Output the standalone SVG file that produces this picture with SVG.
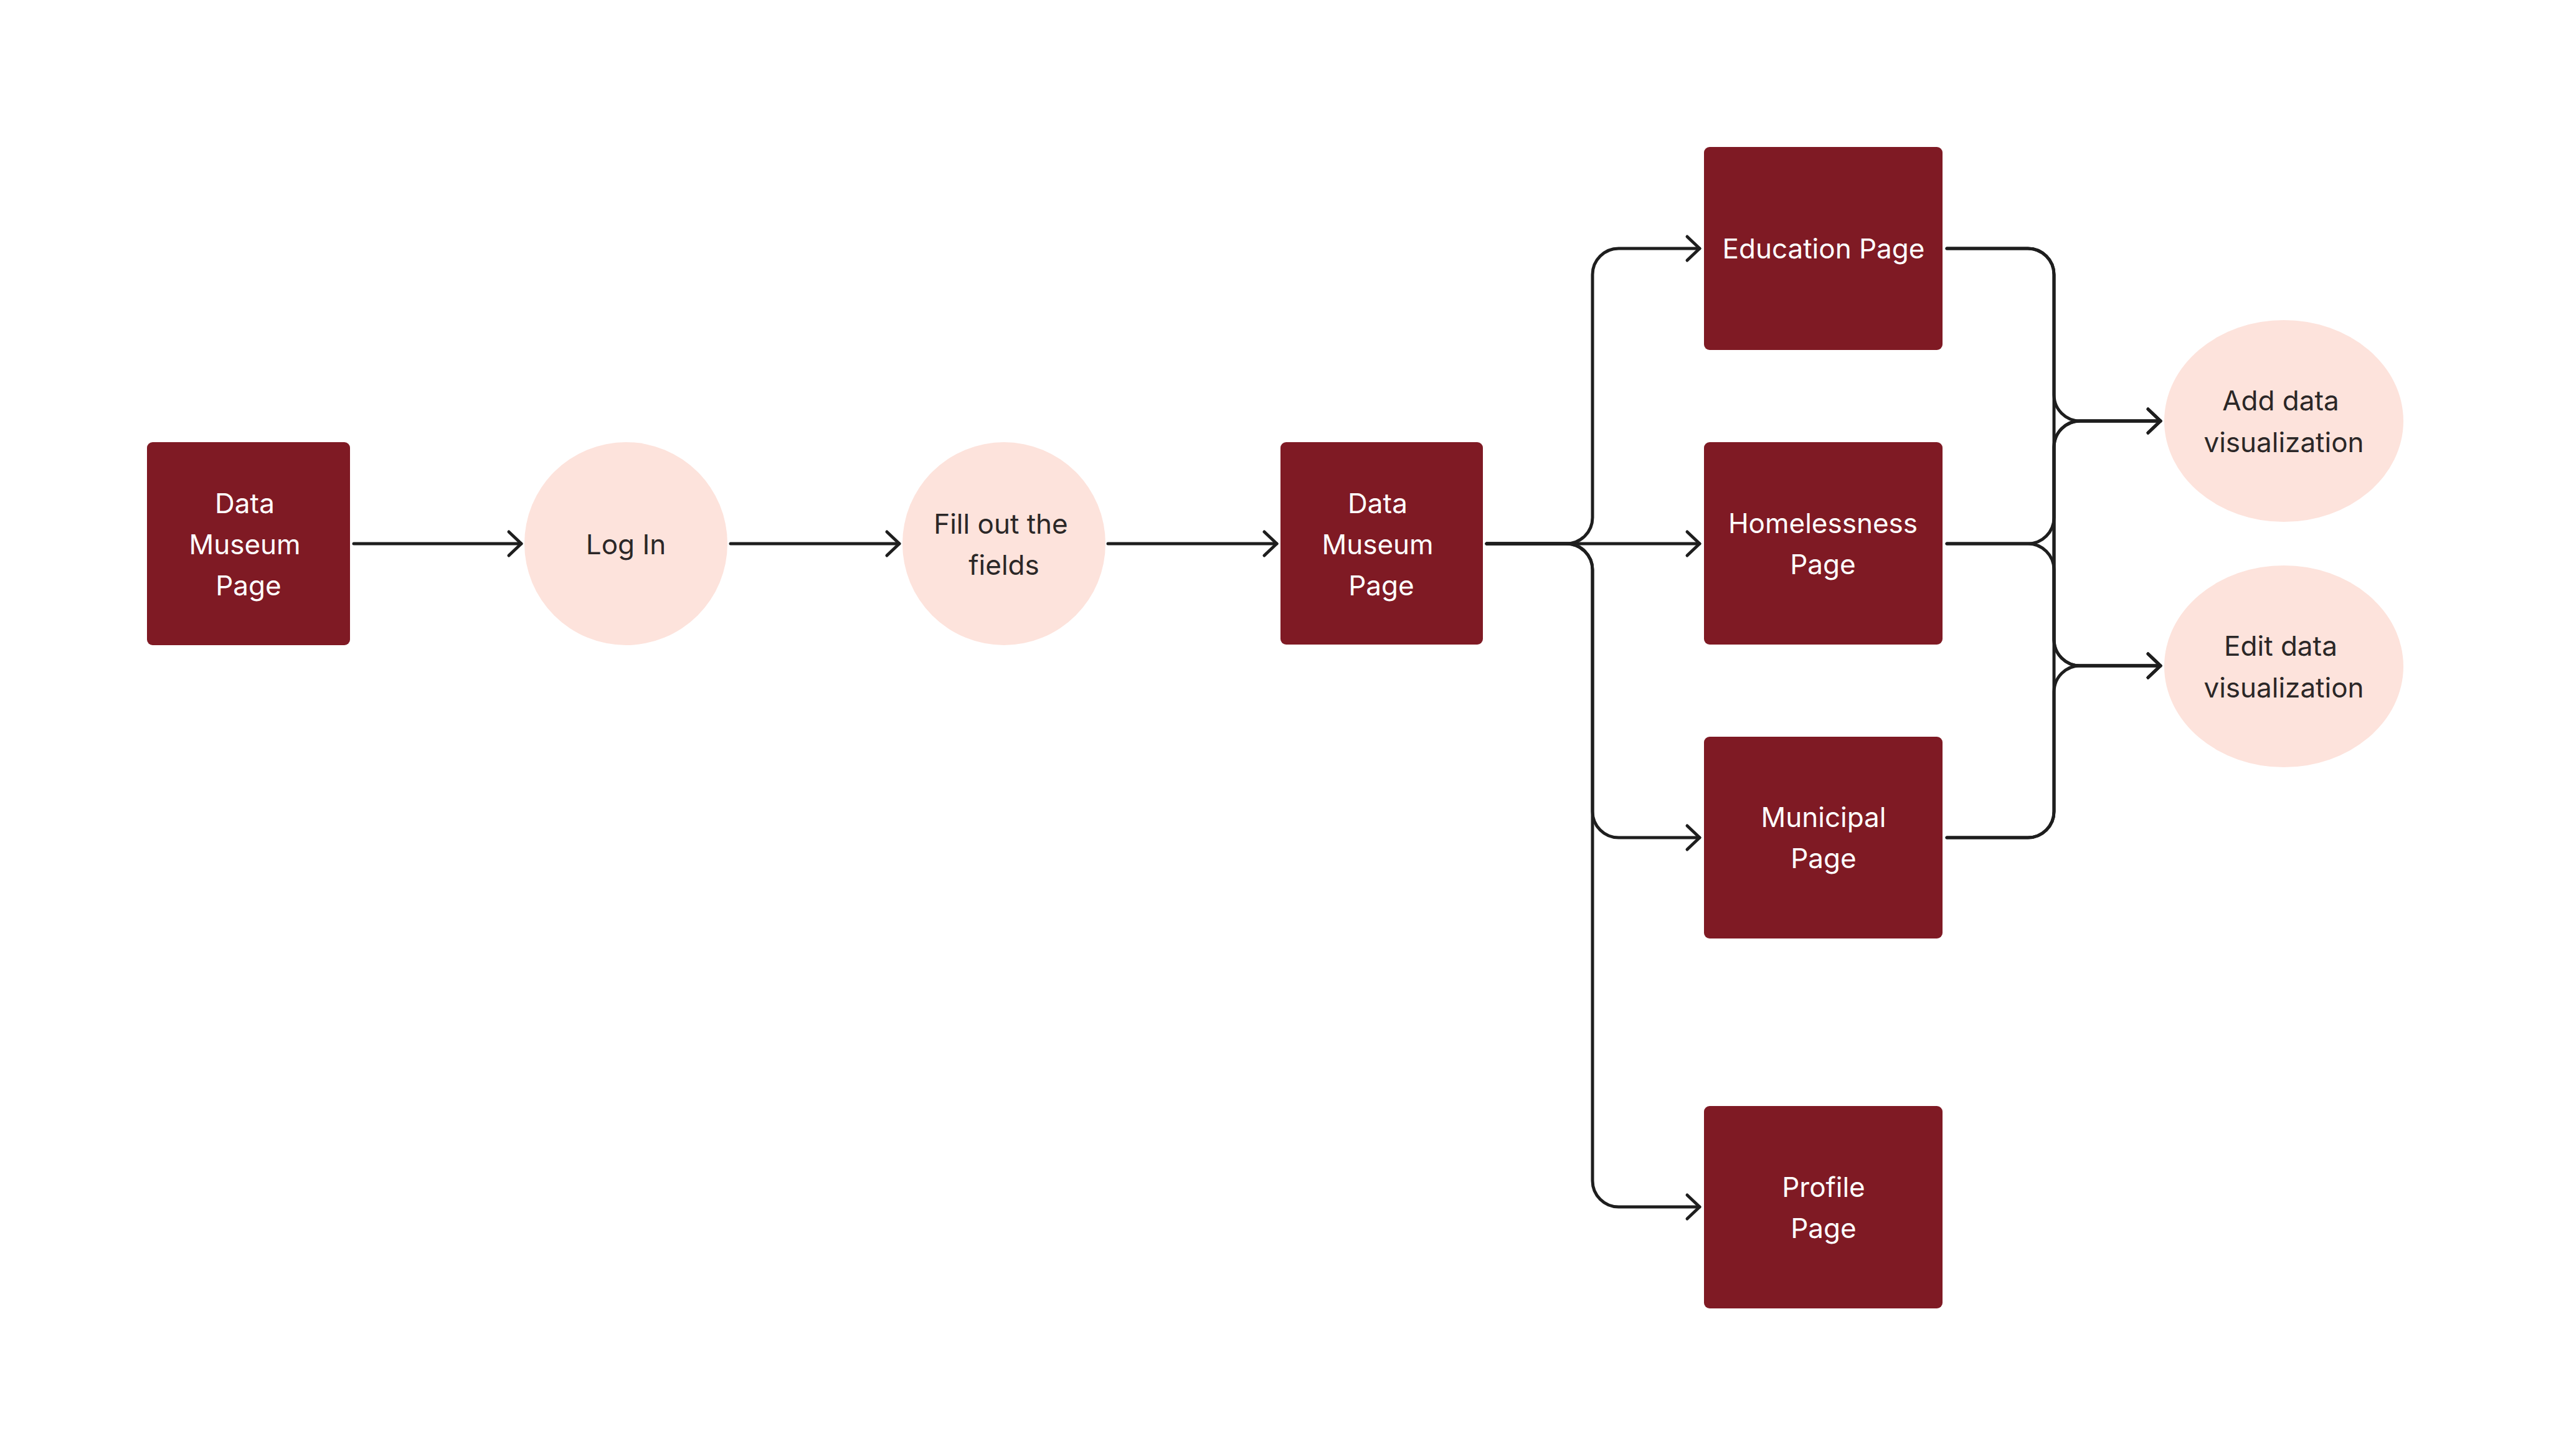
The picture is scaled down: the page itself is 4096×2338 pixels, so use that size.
<svg xmlns="http://www.w3.org/2000/svg" width="4096" height="2338" viewBox="0 0 4096 2338">
<style>
.box{fill:#7f1a24}
.oval{fill:#fde3dc}
.lbl{font-family:Inter,"Noto Sans","Liberation Sans",sans-serif;font-size:44px;text-anchor:middle}
.w{fill:#ffffff}
.d{fill:#2b2727}
.c{fill:none;stroke:#1e1e1e;stroke-width:5;stroke-linecap:round;stroke-linejoin:round}
</style>
<defs>
<marker id="arr" markerUnits="userSpaceOnUse" viewBox="-30 -30 40 60" markerWidth="40" markerHeight="60" refX="0" refY="0" orient="auto" overflow="visible">
<path d="M-20,-19 L0,0 L-20,19" fill="none" stroke="#1e1e1e" stroke-width="5" stroke-linecap="round" stroke-linejoin="round"/>
</marker>
</defs>
<rect width="4096" height="2338" fill="#ffffff"/>
<g id="connectors">
<path class="c" marker-end="url(#arr)" d="M568,873 H837"/>
<path class="c" marker-end="url(#arr)" d="M1173,873 H1444"/>
<path class="c" marker-end="url(#arr)" d="M1779,873 H2050"/>
<path class="c" marker-end="url(#arr)" d="M2387,873 H2515 A42,42 0 0 0 2557,831 V441 A42,42 0 0 1 2599,399 H2729"/>
<path class="c" marker-end="url(#arr)" d="M2387,873 H2729"/>
<path class="c" marker-end="url(#arr)" d="M2387,873 H2515 A42,42 0 0 1 2557,915 V1303 A42,42 0 0 0 2599,1345 H2729"/>
<path class="c" marker-end="url(#arr)" d="M2387,873 H2515 A42,42 0 0 1 2557,915 V1896 A42,42 0 0 0 2599,1938 H2729"/>
<path class="c" marker-end="url(#arr)" d="M3126,399 H3256 A42,42 0 0 1 3298,441 V634 A42,42 0 0 0 3340,676 H3469"/>
<path class="c" marker-end="url(#arr)" d="M3126,399 H3256 A42,42 0 0 1 3298,441 V1027 A42,42 0 0 0 3340,1069 H3469"/>
<path class="c" marker-end="url(#arr)" d="M3126,873 H3256 A42,42 0 0 0 3298,831 V718 A42,42 0 0 1 3340,676 H3469"/>
<path class="c" marker-end="url(#arr)" d="M3126,873 H3256 A42,42 0 0 1 3298,915 V1027 A42,42 0 0 0 3340,1069 H3469"/>
<path class="c" marker-end="url(#arr)" d="M3126,1345 H3256 A42,42 0 0 0 3298,1303 V718 A42,42 0 0 1 3340,676 H3469"/>
<path class="c" marker-end="url(#arr)" d="M3126,1345 H3256 A42,42 0 0 0 3298,1303 V1111 A42,42 0 0 1 3340,1069 H3469"/>
</g>
<g id="n1">
<rect class="box" x="236" y="710" width="326" height="326" rx="9"/>
<text class="lbl w" x="393" y="824">Data</text>
<text class="lbl w" x="393" y="890">Museum</text>
<text class="lbl w" x="399" y="956">Page</text>
</g>
<g id="n2">
<circle class="oval" cx="1005" cy="873" r="163"/>
<text class="lbl d" x="1005" y="890">Log In</text>
</g>
<g id="n3">
<circle class="oval" cx="1612" cy="873" r="163"/>
<text class="lbl d" x="1607" y="857">Fill out the</text>
<text class="lbl d" x="1612" y="923">fields</text>
</g>
<g id="n4">
<rect class="box" x="2056" y="710" width="325" height="325" rx="9"/>
<text class="lbl w" x="2212" y="824">Data</text>
<text class="lbl w" x="2212" y="890">Museum</text>
<text class="lbl w" x="2218" y="956">Page</text>
</g>
<g id="n5">
<rect class="box" x="2736" y="236" width="383" height="326" rx="9"/>
<text class="lbl w" x="2928" y="415">Education Page</text>
</g>
<g id="n6">
<rect class="box" x="2736" y="710" width="383" height="325" rx="9"/>
<text class="lbl w" x="2927" y="856">Homelessness</text>
<text class="lbl w" x="2927" y="922">Page</text>
</g>
<g id="n7">
<rect class="box" x="2736" y="1183" width="383" height="324" rx="9"/>
<text class="lbl w" x="2928" y="1328">Municipal</text>
<text class="lbl w" x="2928" y="1394">Page</text>
</g>
<g id="n8">
<rect class="box" x="2736" y="1776" width="383" height="325" rx="9"/>
<text class="lbl w" x="2928" y="1922">Profile</text>
<text class="lbl w" x="2928" y="1988">Page</text>
</g>
<g id="n9">
<ellipse class="oval" cx="3667" cy="676" rx="192" ry="162"/>
<text class="lbl d" x="3662" y="659">Add data</text>
<text class="lbl d" x="3667" y="726">visualization</text>
</g>
<g id="n10">
<ellipse class="oval" cx="3667" cy="1070" rx="192" ry="162"/>
<text class="lbl d" x="3662" y="1053">Edit data</text>
<text class="lbl d" x="3667" y="1120">visualization</text>
</g>
</svg>
